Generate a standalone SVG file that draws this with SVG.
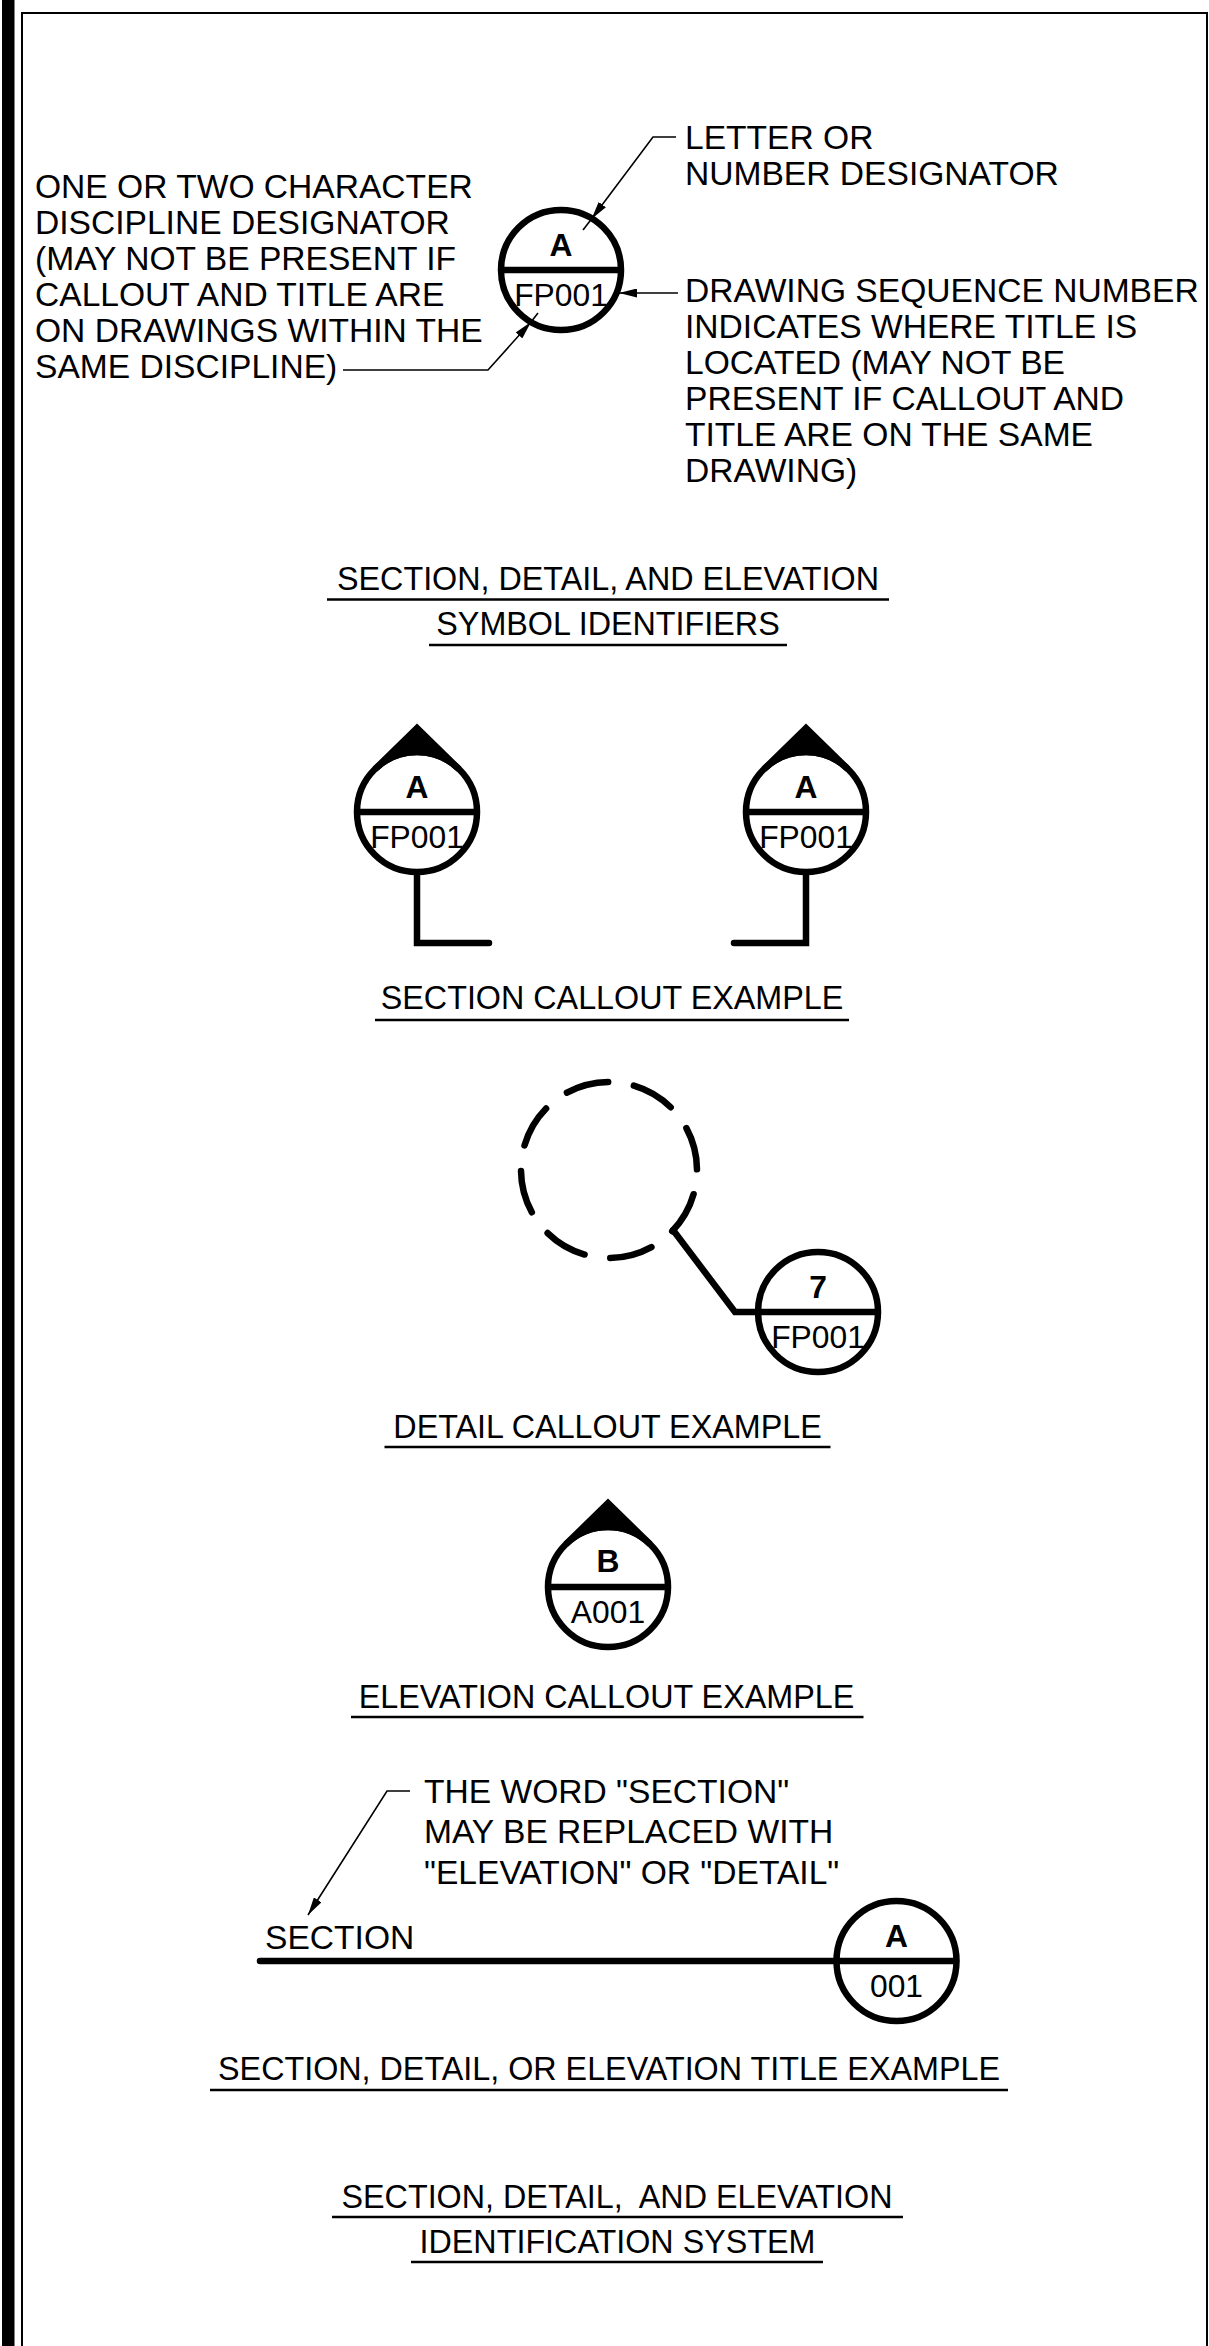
<svg xmlns="http://www.w3.org/2000/svg" width="1209" height="2346" viewBox="0 0 1209 2346">
<style>
text{font-family:"Liberation Sans",Arial,sans-serif;fill:#000}
.ann{font-size:33.6px}
.hd{font-size:32.3px;text-anchor:middle}
.sym{font-size:31.8px;text-anchor:middle}
.b{font-weight:bold}
.thick{fill:none;stroke:#000;stroke-width:6.5}
.ul{stroke:#000;stroke-width:2.5;fill:none}
.lead{stroke:#000;stroke-width:1.6;fill:none}
.drop{fill:#000;stroke:#000;stroke-width:6.5;stroke-linejoin:miter}
</style>
<defs>
<marker id="arr" viewBox="0 0 18 9" refX="18" refY="4.5" markerWidth="18" markerHeight="9" markerUnits="userSpaceOnUse" orient="auto"><path d="M0,0 L18,4.5 L0,9 z" fill="#000"/></marker>
</defs>
<rect x="0" y="0" width="1209" height="2346" fill="#fff"/>
<g id="frame">
<rect x="2" y="0" width="12.5" height="2346" fill="#000"/>
<path d="M22,2346 V13 H1207 V2346" fill="none" stroke="#000" stroke-width="2"/>
</g>

<g id="identifier-symbol">
<circle cx="561" cy="270" r="60" class="thick"/>
<line x1="501" y1="270" x2="621" y2="270" class="thick"/>
<text class="sym b" x="561" y="256">A</text>
<text class="sym" x="561" y="306">FP001</text>
</g>
<g id="note-letter">
<text class="ann" x="685" y="149">LETTER OR</text>
<text class="ann" x="685" y="185">NUMBER DESIGNATOR</text>
</g>
<g id="note-discipline">
<text class="ann" x="35" y="198">ONE OR TWO CHARACTER</text>
<text class="ann" x="35" y="234">DISCIPLINE DESIGNATOR</text>
<text class="ann" x="35" y="270">(MAY NOT BE PRESENT IF</text>
<text class="ann" x="35" y="306">CALLOUT AND TITLE ARE</text>
<text class="ann" x="35" y="342">ON DRAWINGS WITHIN THE</text>
<text class="ann" x="35" y="378">SAME DISCIPLINE)</text>
</g>
<g id="note-sequence">
<text class="ann" x="685" y="302">DRAWING SEQUENCE NUMBER</text>
<text class="ann" x="685" y="338">INDICATES WHERE TITLE IS</text>
<text class="ann" x="685" y="374">LOCATED (MAY NOT BE</text>
<text class="ann" x="685" y="410">PRESENT IF CALLOUT AND</text>
<text class="ann" x="685" y="446">TITLE ARE ON THE SAME</text>
<text class="ann" x="685" y="482">DRAWING)</text>
</g>
<g id="heading-symbol-identifiers">
<text class="hd" x="608" y="590">SECTION, DETAIL, AND ELEVATION</text>
<line x1="327" y1="599.5" x2="889" y2="599.5" class="ul"/>
<text class="hd" x="608" y="635">SYMBOL IDENTIFIERS</text>
<line x1="429" y1="645" x2="787" y2="645" class="ul"/>
</g>

<g id="section-callout-left">
<path class="drop" d="M417,728 L375,769.1 A60,60 0 0 1 459,769.1 Z"/>
<circle cx="417" cy="812" r="60" class="thick"/>
<line x1="357" y1="812" x2="477" y2="812" class="thick"/>
<path d="M417,875 V943 H489" class="thick" stroke-linecap="round"/>
<text class="sym b" x="417" y="798">A</text>
<text class="sym" x="417" y="848">FP001</text>
</g>
<g id="section-callout-right">
<path class="drop" d="M806,728 L764,769.1 A60,60 0 0 1 848,769.1 Z"/>
<circle cx="806" cy="812" r="60" class="thick"/>
<line x1="746" y1="812" x2="866" y2="812" class="thick"/>
<path d="M806,875 V943 H734" class="thick" stroke-linecap="round"/>
<text class="sym b" x="806" y="798">A</text>
<text class="sym" x="806" y="848">FP001</text>
</g>
<g id="heading-section-callout">
<text class="hd" x="612" y="1009">SECTION CALLOUT EXAMPLE</text>
<line x1="375" y1="1020" x2="849" y2="1020" class="ul"/>
</g>

<g id="detail-area">
<circle cx="609" cy="1170" r="88" fill="none" stroke="#000" stroke-width="6.5" stroke-linecap="round" stroke-dasharray="43 26.11" stroke-dashoffset="44.5"/>
</g>
<g id="detail-callout">
<circle cx="818" cy="1312" r="60" class="thick"/>
<line x1="758" y1="1312" x2="878" y2="1312" class="thick"/>
<text class="sym b" x="818" y="1298">7</text>
<text class="sym" x="818" y="1348">FP001</text>
</g>
<g id="heading-detail-callout">
<text class="hd" x="607.5" y="1438">DETAIL CALLOUT EXAMPLE</text>
<line x1="384.5" y1="1447" x2="830.5" y2="1447" class="ul"/>
</g>

<g id="elevation-callout">
<path class="drop" d="M608,1503 L566,1544.1 A60,60 0 0 1 650,1544.1 Z"/>
<circle cx="608" cy="1587" r="60" class="thick"/>
<line x1="548" y1="1587" x2="668" y2="1587" class="thick"/>
<text class="sym b" x="608" y="1572">B</text>
<text class="sym" x="608" y="1623">A001</text>
</g>
<g id="heading-elevation-callout">
<text class="hd" x="606.5" y="1708">ELEVATION CALLOUT EXAMPLE</text>
<line x1="351" y1="1717" x2="863.5" y2="1717" class="ul"/>
</g>

<g id="note-word">
<text class="ann" x="424" y="1803">THE WORD "SECTION"</text>
<text class="ann" x="424" y="1843">MAY BE REPLACED WITH</text>
<text class="ann" x="424" y="1884">"ELEVATION" OR "DETAIL"</text>
</g>
<g id="title-example">
<text class="ann" x="265" y="1949">SECTION</text>
<path d="M260,1961 H956" class="thick" stroke-linecap="round"/>
<circle cx="896.5" cy="1961" r="60" class="thick"/>
<text class="sym b" x="896.5" y="1947">A</text>
<text class="sym" x="896.5" y="1997">001</text>
</g>
<g id="heading-title-example">
<text class="hd" x="609" y="2080">SECTION, DETAIL, OR ELEVATION TITLE EXAMPLE</text>
<line x1="210" y1="2090" x2="1008" y2="2090" class="ul"/>
</g>

<g id="heading-identification-system">
<text class="hd" x="617" y="2208" style="white-space:pre">SECTION, DETAIL,  AND ELEVATION</text>
<line x1="332" y1="2217" x2="903" y2="2217" class="ul"/>
<text class="hd" x="617.5" y="2253">IDENTIFICATION SYSTEM</text>
<line x1="411" y1="2262" x2="823" y2="2262" class="ul"/>
</g>

<g id="connectors">
<path class="lead" d="M676,137 H653 L591.5,219" marker-end="url(#arr)"/>
<path class="lead" d="M591.5,219 L583,230"/>
<path class="lead" d="M343,370 H488 L531,322" marker-end="url(#arr)"/>
<path class="lead" d="M531,322 L538,313"/>
<path class="lead" d="M678,293 H619" marker-end="url(#arr)"/>
<path d="M673,1230 L735,1312 H760" class="thick" stroke-linecap="round" stroke-linejoin="miter"/>
<path class="lead" d="M410,1791 H387 L308,1915" marker-end="url(#arr)"/>
</g>
</svg>
